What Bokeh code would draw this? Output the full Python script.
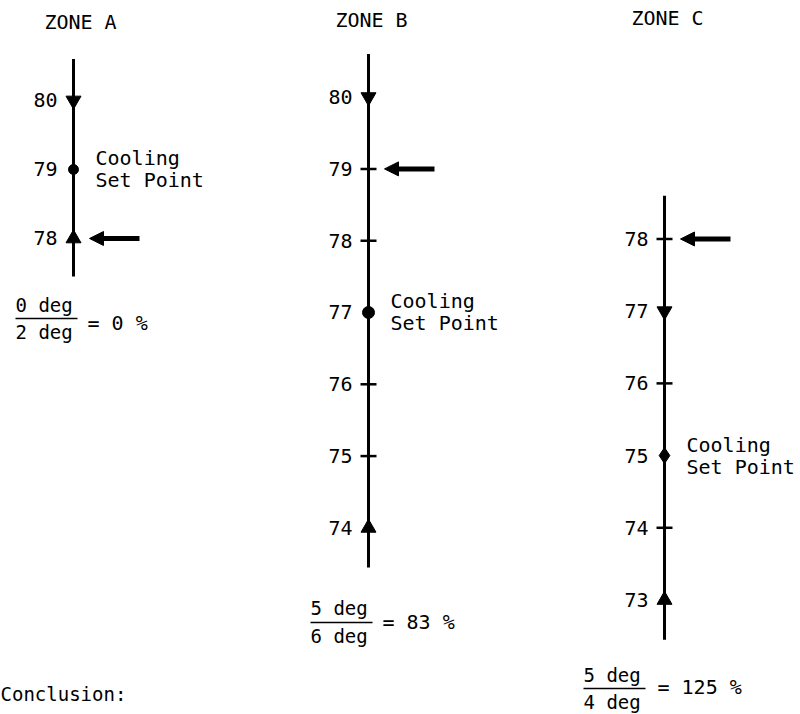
from bokeh.plotting import figure
from bokeh.models import Range1d, Arrow, NormalHead
from bokeh.core.properties import value
from bokeh.embed import file_html
from bokeh.resources import INLINE

# ---------------- data ----------------
zones = ["ZONE A", "ZONE B", "ZONE C"]
scale_a = [78, 79, 80]
scale_b = [74, 75, 76, 77, 78, 79, 80]
scale_c = [73, 74, 75, 76, 77, 78]
set_points = [79, 77, 75]
band_low = [78, 74, 73]
band_high = [80, 80, 77]
zone_temps = [78, 79, 78]
deg_num = [0, 5, 5]
deg_den = [2, 6, 4]
percents = [0, 83, 125]
set_point_label = ["Cooling", "Set Point"]
conclusion = "Conclusion:"

scales = [scale_a, scale_b, scale_c]

# ---------------- layout / style ----------------
FONT = value("DejaVu Sans Mono")
INK = "black"
axis_x = [73, 368, 664]
temp_ranges = [(71.101, 81.449), (71.401, 81.345), (71.414, 81.303)]
title_pos = [(80, 21), (371, 19), (667, 17)]
# x0, y_num, y_bar, y_den, x_eq, y_eq
frac_pos = [(15, 304, 318, 331, 87, 322),
            (310, 607, 622, 635, 382, 621),
            (583, 674, 688, 701, 657, 686)]
sp_marker = [("circle", 10), ("circle", 12), ("diamond", 16)]

p = figure(width=800, height=714, x_range=Range1d(0, 800), y_range=Range1d(714, 0),
           x_axis_location=None, y_axis_location=None, toolbar_location=None,
           output_backend="svg", min_border=0, outline_line_color=None,
           background_fill_color="white", border_fill_color="white")
p.grid.visible = False

for i, name in enumerate(zones):
    rn = f"zone{i}"
    lo, hi = temp_ranges[i]
    p.extra_y_ranges[rn] = Range1d(lo, hi)
    ax = axis_x[i]
    sc = scales[i]
    low, high, sp, cur = band_low[i], band_high[i], set_points[i], zone_temps[i]

    # title
    tx, ty = title_pos[i]
    p.text(x=[tx], y=[ty], text=[name], text_font=FONT, text_font_size="20px",
           text_align="center", text_baseline="middle", text_color=INK)

    # scale line
    p.segment(x0=[ax], y0=[min(sc) - 0.55], x1=[ax], y1=[max(sc) + 0.6],
              line_width=3, line_color=INK, y_range_name=rn)

    # plain tick marks
    plain = [t for t in sc if t not in (low, high, sp)]
    if plain:
        p.segment(x0=[ax - 8] * len(plain), y0=plain, x1=[ax + 8] * len(plain), y1=plain,
                  line_width=2.5, line_color=INK, y_range_name=rn)

    # tick labels
    p.text(x=[ax - 16] * len(sc), y=sc, text=[str(t) for t in sc], text_font=FONT,
           text_font_size="20px", text_align="right", text_baseline="middle",
           text_color=INK, y_range_name=rn)

    # throttling band ends
    p.scatter(x=[ax], y=[high], marker="inverted_triangle", size=15,
              fill_color=INK, line_color=INK, y_range_name=rn)
    p.scatter(x=[ax], y=[low], marker="triangle", size=15,
              fill_color=INK, line_color=INK, y_range_name=rn)

    # set point
    mk, ms = sp_marker[i]
    p.scatter(x=[ax], y=[sp], marker=mk, size=ms, fill_color=INK, line_color=INK,
              y_range_name=rn)
    p.text(x=[ax + 22], y=[sp], text=[set_point_label[0]], y_offset=-11, text_font=FONT,
           text_font_size="20px", text_align="left", text_baseline="middle",
           text_color=INK, y_range_name=rn)
    p.text(x=[ax + 22], y=[sp], text=[set_point_label[1]], y_offset=11, text_font=FONT,
           text_font_size="20px", text_align="left", text_baseline="middle",
           text_color=INK, y_range_name=rn)

    # current zone temperature arrow
    p.add_layout(Arrow(end=NormalHead(size=14, fill_color=INK, line_color=INK),
                       x_start=ax + 66, y_start=cur, x_end=ax + 16, y_end=cur,
                       line_width=5, line_color=INK, y_range_name=rn))

    # fraction
    x0, yn, yb, yd, xe, ye = frac_pos[i]
    p.text(x=[x0], y=[yn], text=[f"{deg_num[i]} deg"], text_font=FONT,
           text_font_size="19px", text_align="left", text_baseline="middle", text_color=INK)
    p.segment(x0=[x0], y0=[yb], x1=[x0 + 62], y1=[yb], line_width=1.5, line_color=INK)
    p.text(x=[x0], y=[yd], text=[f"{deg_den[i]} deg"], text_font=FONT,
           text_font_size="19px", text_align="left", text_baseline="middle", text_color=INK)
    p.text(x=[xe], y=[ye], text=[f"= {percents[i]} %"], text_font=FONT,
           text_font_size="20px", text_align="left", text_baseline="middle", text_color=INK)

p.text(x=[0], y=[693], text=[conclusion], text_font=FONT, text_font_size="19px",
       text_align="left", text_baseline="middle", text_color=INK)

open("out.html", "w").write(file_html(p, INLINE))
